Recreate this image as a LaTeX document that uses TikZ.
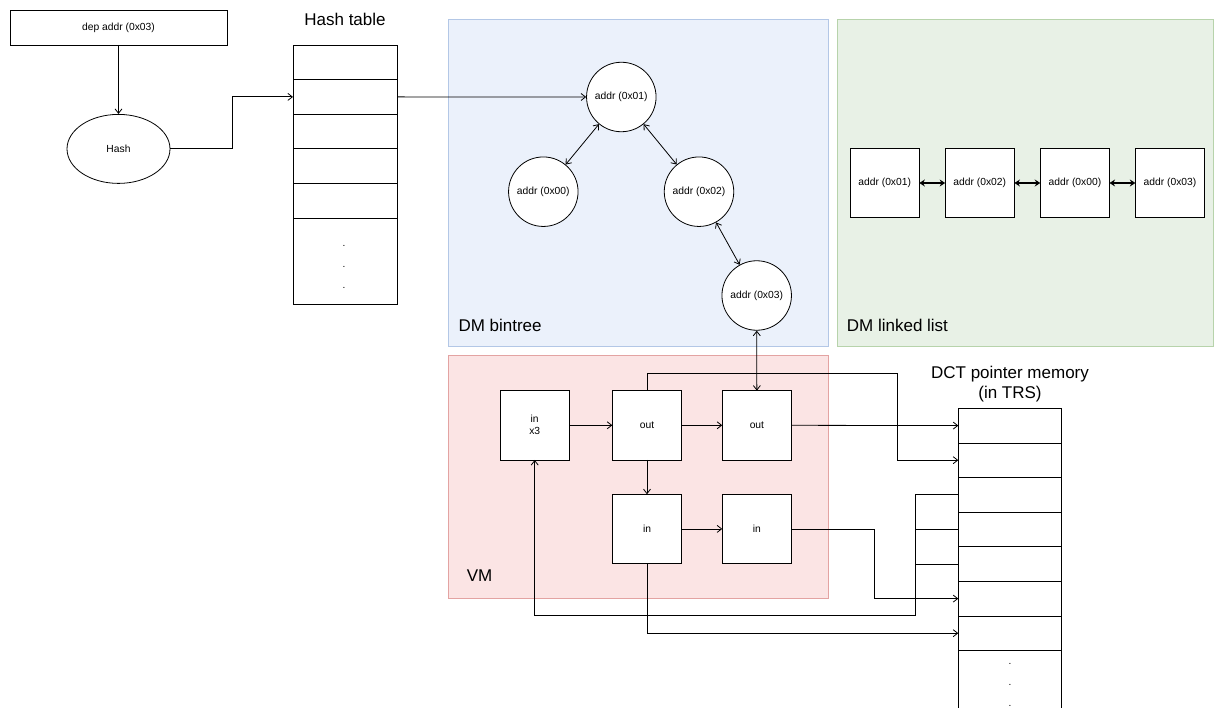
\documentclass[tikz,border=0pt]{standalone}
\usepackage{fontspec}
\setmainfont{Liberation Sans}
\usetikzlibrary{shapes.geometric, arrows.meta, positioning}

\definecolor{treefill}{HTML}{EBF1FB}
\definecolor{treedraw}{HTML}{B3C7E6}
\definecolor{listfill}{HTML}{E8F1E6}
\definecolor{listdraw}{HTML}{B7D3AB}
\definecolor{vmfill}{HTML}{FBE4E4}
\definecolor{vmdraw}{HTML}{E3A3A2}

\begin{document}
\begin{tikzpicture}[
    x=1pt, y=-1pt,
    font=\fontsize{10.3}{12}\selectfont,
    region/.style={
        rectangle,
        draw,
        line width=0.8pt,
        anchor=north west,
        inner sep=0pt,
        outer sep=0pt
    },
    regionlabel/.style={
        anchor=base west,
        inner sep=0pt,
        font=\fontsize{17}{20}\selectfont
    },
    title/.style={
        inner sep=0pt,
        align=center,
        font=\fontsize{17}{20}\selectfont
    },
    box/.style={
        rectangle,
        draw,
        fill=white,
        line width=0.8pt,
        inner sep=0pt,
        outer sep=0pt,
        align=center
    },
    square/.style={
        box,
        minimum width=69.3pt,
        minimum height=69.3pt
    },
    treenode/.style={
        circle,
        draw,
        fill=white,
        line width=0.8pt,
        inner sep=0pt,
        minimum size=69.5pt
    },
    cell/.style={
        box,
        minimum width=104pt,
        minimum height=34.6pt
    },
    dotscell/.style={
        box,
        minimum width=104pt,
        minimum height=86.5pt
    },
    dots/.style={
        anchor=north,
        inner sep=0pt,
        align=center,
        font=\fontsize{10}{21}\selectfont
    },
    line/.style={
        draw,
        line width=0.8pt,
        -{Straight Barb[length=4.5pt,width=7pt]}
    },
    biline/.style={
        draw,
        line width=0.8pt,
        {Straight Barb[length=4.5pt,width=7pt]}-{Straight Barb[length=4.5pt,width=7pt]}
    },
    listline/.style={
        draw,
        line width=1.3pt,
        {Stealth[length=5.5pt,width=7pt]}-{Stealth[length=5.5pt,width=7pt]}
    },
    plain/.style={
        draw,
        line width=0.8pt
    }
]
    \useasboundingbox (0,0) rectangle (1214,708);

    % --- Regions ---
    \node [region, fill=treefill, draw=treedraw, minimum width=380.2pt, minimum height=327.7pt] (bintree) at (448.3,19) {};
    \node [region, fill=listfill, draw=listdraw, minimum width=375.7pt, minimum height=327.7pt] (linkedlist) at (837.3,19) {};
    \node [region, fill=vmfill, draw=vmdraw, minimum width=380pt, minimum height=242.6pt] (vm) at (448.3,355.7) {};

    \node [regionlabel] (bintreelabel) at ([xshift=10pt, yshift=15pt]bintree.south west) {DM bintree};
    \node [regionlabel] (listlabel) at ([xshift=9.4pt, yshift=15pt]linkedlist.south west) {DM linked list};
    \node [regionlabel] (vmlabel) at ([xshift=18.4pt, yshift=16.6pt]vm.south west) {VM};

    % --- Nodes ---

    % Input address and hash function
    \node [box, minimum width=217pt, minimum height=35pt] (dep) at (118.5,27.5) {dep addr (0x03)};
    \node [ellipse, draw, line width=0.8pt, inner sep=0pt, minimum width=103pt, minimum height=69pt, below=69pt of dep] (hash) {Hash};

    % Hash table
    \node [cell] (ht1) at (345,62.3) {};
    \node [cell, below=0pt of ht1] (ht2) {};
    \node [cell, below=0pt of ht2] (ht3) {};
    \node [cell, below=0pt of ht3] (ht4) {};
    \node [cell, below=0pt of ht4] (ht5) {};
    \node [dotscell, below=0pt of ht5] (htdots) {};
    \node [dots] (htdotstext) at ([xshift=-1pt, yshift=-27pt]htdots.north) {.\\.\\.};
    \node [title, above=19pt of ht1] (httitle) {Hash table};

    % Binary tree
    \node [treenode] (a01) at (621.3,97) {addr (0x01)};
    \node [treenode] (a00) at (543.3,191.7) {addr (0x00)};
    \node [treenode] (a02) at (699,191.7) {addr (0x02)};
    \node [treenode] (a03) at (756.7,295.5) {addr (0x03)};

    % Linked list
    \node [square] (ll1) at (884.7,183) {addr (0x01)};
    \node [square, right=25.8pt of ll1] (ll2) {addr (0x02)};
    \node [square, right=25.8pt of ll2] (ll3) {addr (0x00)};
    \node [square, right=25.8pt of ll3] (ll4) {addr (0x03)};

    % VM slots
    \node [square] (inx3) at (534.7,425.3) {in\\x3};
    \node [square, right=43pt of inx3] (out1) {out};
    \node [square, right=40.6pt of out1] (out2) {out};
    \node [square, below=34.3pt of out1] (in1) {in};
    \node [square, right=40.6pt of in1] (in2) {in};

    % DCT pointer memory
    \node [cell, minimum width=103.4pt] (dct1) at (1010,425.6) {};
    \node [cell, minimum width=103.4pt, below=0pt of dct1] (dct2) {};
    \node [cell, minimum width=103.4pt, below=0pt of dct2] (dct3) {};
    \node [cell, minimum width=103.4pt, below=0pt of dct3] (dct4) {};
    \node [cell, minimum width=103.4pt, below=0pt of dct4] (dct5) {};
    \node [cell, minimum width=103.4pt, below=0pt of dct5] (dct6) {};
    \node [cell, minimum width=103.4pt, below=0pt of dct6] (dct7) {};
    \node [dotscell, minimum width=103.4pt, below=0pt of dct7] (dctdots) {};
    \node [dots] (dctdotstext) at ([yshift=-12.8pt]dctdots.north) {.\\.\\.};
    \node [title, above=6.4pt of dct1] (dcttitle) {DCT pointer memory\\(in TRS)};

    % --- Connections ---

    % Lookup path
    \draw [line] (dep) -- (hash);
    \draw [line] (hash.east) -- ++(62,0) |- (ht2.west);
    \draw [line] (ht2.east) -- (a01);

    % Tree links
    \draw [biline] (a01) -- (a00);
    \draw [biline] (a01) -- (a02);
    \draw [biline] (a02) -- (a03);
    \draw [biline] (a03) -- (out2);

    % List links
    \draw [listline] (ll1) -- (ll2);
    \draw [listline] (ll2) -- (ll3);
    \draw [listline] (ll3) -- (ll4);

    % Inside the VM
    \draw [line] (inx3) -- (out1);
    \draw [line] (out1) -- (out2);
    \draw [line] (out1) -- (in1);
    \draw [line] (in1) -- (in2);

    % To and from the pointer memory
    \draw [line] (out2.east) -- (dct1.west);
    \draw [line] (out1.north) -- ++(0,-17.4) -| ([xshift=-60.6pt]dct2.west) -- (dct2.west);
    \draw [line] (in2.east) -- ++(82.6,0) |- (dct6.west);
    \draw [line] (in1.south) |- (dct7.west);
    \draw [line] (dct3.west) -- ++(-43.3,0) -- ++(0,120.8) -| (inx3.south);
    \draw [plain] (dct4.west) -- ++(-43.3,0);
    \draw [plain] (dct5.west) -- ++(-43.3,0);

\end{tikzpicture}
\end{document}
